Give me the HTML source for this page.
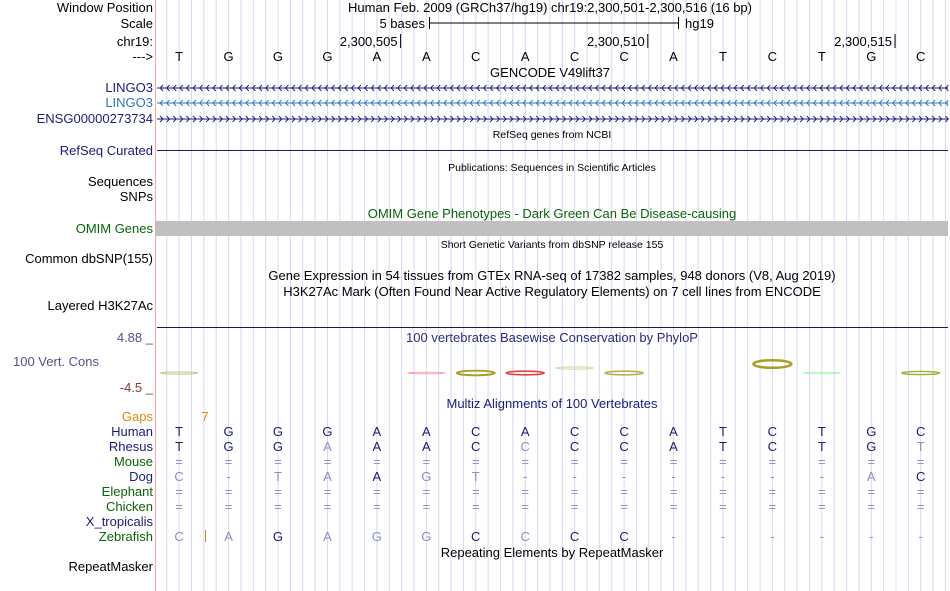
<!DOCTYPE html>
<html><head><meta charset="utf-8">
<style>
html,body{margin:0;padding:0;background:#fff;}
svg{display:block;font-family:"Liberation Sans",Arial,sans-serif;}
</style></head>
<body>
<svg id="b" width="950" height="591" viewBox="0 0 950 591">
<g id="grid"></g>
<line x1="155.5" y1="0" x2="155.5" y2="591" stroke="#f4a8a8" stroke-width="1"/>
<g font-size="13" text-anchor="end">
<text x="153" y="12" fill="#000">Window Position</text>
<text x="153" y="28" fill="#000">Scale</text>
<text x="153" y="46" fill="#000">chr19:</text>
<text x="153" y="61" fill="#000">---&gt;</text>
<text x="153" y="92" fill="#1a1a80">LINGO3</text>
<text x="153" y="107" fill="#2a78b8">LINGO3</text>
<text x="153" y="123" fill="#1a1a80">ENSG00000273734</text>
<text x="153" y="155" fill="#1a1a80">RefSeq Curated</text>
<text x="153" y="186" fill="#000">Sequences</text>
<text x="153" y="201" fill="#000">SNPs</text>
<text x="153" y="233" fill="#0a640a">OMIM Genes</text>
<text x="153" y="263" fill="#000">Common dbSNP(155)</text>
<text x="153" y="310" fill="#000">Layered H3K27Ac</text>
<text x="153" y="342" fill="#50508f">4.88 _</text>
<text x="99" y="366" fill="#50508f">100 Vert. Cons</text>
<text x="153" y="392" fill="#8a3a3a">-4.5 _</text>
<text x="153" y="421" fill="#e08a10">Gaps</text>
<text x="153" y="436" fill="#1a1a80">Human</text>
<text x="153" y="451" fill="#1a1a80">Rhesus</text>
<text x="153" y="466" fill="#0a640a">Mouse</text>
<text x="153" y="481" fill="#1a1a80">Dog</text>
<text x="153" y="496" fill="#0a640a">Elephant</text>
<text x="153" y="511" fill="#0a640a">Chicken</text>
<text x="153" y="526" fill="#1a1a80">X_tropicalis</text>
<text x="153" y="541" fill="#0a640a">Zebrafish</text>
<text x="153" y="571" fill="#000">RepeatMasker</text>
</g>
<g font-size="13" text-anchor="middle">
<text x="550" y="12" fill="#000">Human Feb. 2009 (GRCh37/hg19)   chr19:2,300,501-2,300,516 (16 bp)</text>
<text x="550" y="77" fill="#000">GENCODE V49lift37</text>
<text x="552" y="138" fill="#000" font-size="10.5">RefSeq genes from NCBI</text>
<text x="552" y="171" fill="#000" font-size="10.5">Publications: Sequences in Scientific Articles</text>
<text x="552" y="218" fill="#0a640a">OMIM Gene Phenotypes - Dark Green Can Be Disease-causing</text>
<text x="552" y="248" fill="#000" font-size="10.5">Short Genetic Variants from dbSNP release 155</text>
<text x="552" y="280" fill="#000">Gene Expression in 54 tissues from GTEx RNA-seq of 17382 samples, 948 donors (V8, Aug 2019)</text>
<text x="552" y="296" fill="#000">H3K27Ac Mark (Often Found Near Active Regulatory Elements) on 7 cell lines from ENCODE</text>
<text x="552" y="342" fill="#2a2a80">100 vertebrates Basewise Conservation by PhyloP</text>
<text x="552" y="408" fill="#1a1a80">Multiz Alignments of 100 Vertebrates</text>
<text x="552" y="557" fill="#000">Repeating Elements by RepeatMasker</text>
</g>
<g font-size="13">
<text x="425" y="28" text-anchor="end" fill="#000">5 bases</text>
<line x1="429" y1="23" x2="678" y2="23" stroke="#000"/>
<line x1="429.5" y1="17" x2="429.5" y2="29" stroke="#000"/>
<line x1="678.5" y1="17" x2="678.5" y2="29" stroke="#000"/>
<text x="685" y="28" fill="#000">hg19</text>
</g>
<g id="pos" font-size="13"></g>
<rect x="156" y="221" width="792" height="15" fill="#c0c0c0"/>
<line x1="157" y1="150.5" x2="948" y2="150.5" stroke="#1a1a80"/>
<line x1="157" y1="327.5" x2="948" y2="327.5" stroke="#1a1a50"/>
<g id="genes"></g>
<g id="cons"></g>
<g id="seq" font-size="13" text-anchor="middle"></g>
<text x="205" y="421" font-size="13" fill="#e08a10" text-anchor="middle">7</text>
<line x1="205.5" y1="530" x2="205.5" y2="542" stroke="#e08a10"/>
</svg>
<script>
const NS="http://www.w3.org/2000/svg";
const basePos=[2300505,2300510,2300515];
const ref="TGGGAACACCATCTGC";
const rhesus="TGGAAACCCCATCTGT";
const mouse="================";
const dog="C-TAAGT-------AC";
const elephant="================";
const chicken="================";
const zebrafish="CAGAGGCCCC------";
const dogDark=[4,15];
const zebraDark=[2,6,8,9];
const rowYs=[436,451,466,481,496,511,541];
const X0=154.4, BW=49.44;
function bx(i){return X0+BW*i+24.7;}
function mk(tag,attrs,parent){const e=document.createElementNS(NS,tag);for(const k in attrs)e.setAttribute(k,attrs[k]);parent.appendChild(e);return e;}
const grid=document.getElementById('grid');
for(let k=1;k<=64;k++){const x=X0+12.36*k;
 const l=mk('line',{x1:x,y1:0,x2:x,y2:591,stroke:'#d8d8f4','stroke-width':1},grid);
 
 }
const pos=document.getElementById('pos');
basePos.forEach(p=>{const i=p-2300501;const x=X0+BW*(i+1)-1;
 const t=mk('text',{x:x-3,y:46,'text-anchor':'end',fill:'#000'},pos);t.textContent=p.toLocaleString('en-US');
 
 
 const l=mk('line',{x1:x,y1:34,x2:x,y2:48,stroke:'#000'},pos);
 
 });
const seq=document.getElementById('seq');
for(let i=0;i<16;i++){const t=mk('text',{x:bx(i),y:61,fill:'#000'},seq);t.textContent=ref[i];
 
 }
const rows=[[ref,null],[rhesus,'ref'],[mouse,'none'],[dog,dogDark],[elephant,'none'],[chicken,'none'],[zebrafish,zebraDark]];
rows.forEach((r,ri)=>{const s=r[0];for(let i=0;i<16;i++){let dark;
 if(r[1]===null)dark=true;else if(r[1]==='ref')dark=s[i]===ref[i];else if(r[1]==='none')dark=false;else dark=r[1].includes(i);
 const t=mk('text',{x:bx(i),y:rowYs[ri],fill:dark?'#1a1a70':'#8890c4'},seq);t.textContent=s[i];
 
 }});
const genes=document.getElementById('genes');
[[88,'#1a1a80',-1],[103,'#2a78b8',-1],[119,'#1a1a80',1]].forEach(g=>{
 const l=mk('line',{x1:157,y1:g[0],x2:948,y2:g[0],stroke:g[1]},genes);
 
 
 let d='';for(let x=160;x<946;x+=6.6){d+=g[2]<0?`M${x+3},${g[0]-3}L${x},${g[0]}L${x+3},${g[0]+3}`:`M${x},${g[0]-3}L${x+3},${g[0]}L${x},${g[0]+3}`;}
 const p=mk('path',{d:d,stroke:g[1],fill:'none','stroke-width':0.9},genes);
 
 });
// conservation logos
const consIdx=[0,5,6,7,8,9,12,13,15];
const consH=[1.5,1,4,3,1.5,3,7,1,2.5];
const consCol=['#c8c890','#f0a0a0','#a8a020','#e04040','#d8d8a0','#b8b050','#a8a020','#b0f0b0','#a0b030'];
const cons=document.getElementById('cons');
consIdx.forEach((i,j)=>{const cx=bx(i);const h=consH[j];const cy=j==6?364:(j==4?368:373);
 const e=mk('ellipse',{cx:cx,cy:cy,rx:19,ry:h/2+0.3,fill:'none',stroke:consCol[j],'stroke-width':Math.min(2.5,h/3+0.6)},cons);
 
 });
</script>
</body></html>
